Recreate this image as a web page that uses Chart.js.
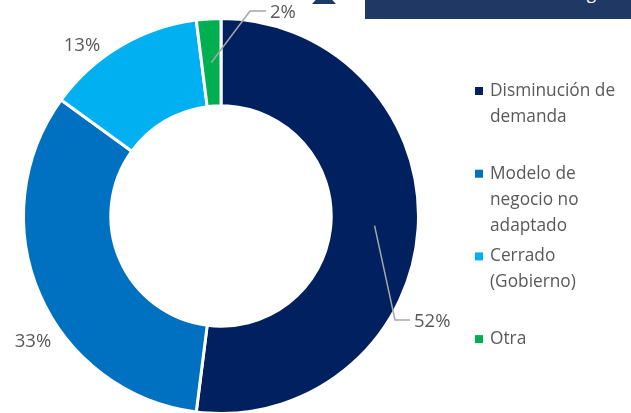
<!DOCTYPE html>
<html>
<head>
<meta charset="utf-8">
<script src="https://cdn.jsdelivr.net/npm/chart.js@4.4.0/dist/chart.umd.min.js"></script>
<style>
  html, body { margin: 0; padding: 0; background: #fff; }
  #wrap { position: relative; width: 631px; height: 413px; overflow: hidden; }
  #chart { position: absolute; left: 0; top: 0; }
  #tri { position: absolute; left: 312px; top: -9px; width: 0; height: 0;
         border-left: 12px solid transparent; border-right: 12px solid transparent;
         border-bottom: 13px solid #1f3864; }
  #box { position: absolute; left: 365px; top: 0; width: 266px; height: 19px;
         background: #1f3864; overflow: hidden; }
  #box span { position: absolute; left: 40px; top: -19px; color: #fff;
              font: 17px "Open Sans", sans-serif; white-space: nowrap; }
</style>
</head>
<body>
<div id="wrap">
  <canvas id="chart" width="631" height="416"></canvas>
  <div id="tri"></div>
  <div id="box"><span>Motivo de cierre del negocio</span></div>
</div>
<script>
const labels = [
  ["Disminución de", "demanda"],
  ["Modelo de", "negocio no", "adaptado"],
  ["Cerrado", "(Gobierno)"],
  ["Otra"]
];
const values = [52, 33, 13, 2];
const colors = ["#002060", "#0070c0", "#00b0f0", "#00b050"];

const textColor = "#595959";

// where each percentage label sits; some get a leader line from the slice
const labelSpots = [
  { x: 414, y: 322, align: "left", line: [[395, 320], [410, 320]] },
  { x: 33, y: 342, align: "center" },
  { x: 82, y: 46, align: "center" },
  { x: 270, y: 13, align: "left", line: [[250, 11], [266, 11]] }
];

const sliceLabels = {
  id: "sliceLabels",
  afterDatasetsDraw(chart) {
    const ctx = chart.ctx;
    const arcs = chart.getDatasetMeta(0).data;
    ctx.save();
    arcs.forEach((arc, i) => {
      const spot = labelSpots[i];
      if (spot.line) {
        const p = arc.tooltipPosition();
        ctx.beginPath();
        ctx.moveTo(p.x, p.y);
        spot.line.forEach(pt => ctx.lineTo(pt[0], pt[1]));
        ctx.strokeStyle = "#a6a6a6";
        ctx.lineWidth = 1.5;
        ctx.stroke();
      }
      ctx.fillStyle = textColor;
      ctx.font = "18.5px 'Open Sans', sans-serif";
      ctx.textAlign = spot.align;
      ctx.textBaseline = "middle";
      ctx.fillText(values[i] + "%", spot.x, spot.y);
    });
    ctx.restore();
  }
};

const sideLegend = {
  id: "sideLegend",
  afterDraw(chart) {
    const ctx = chart.ctx;
    ctx.save();
    ctx.font = "17.3px 'Open Sans', sans-serif";
    ctx.textBaseline = "middle";
    ctx.textAlign = "left";
    labels.forEach((lines, i) => {
      const y0 = 91 + i * 82.7;
      ctx.fillStyle = colors[i];
      ctx.fillRect(475, y0 - 4, 8, 8);
      ctx.fillStyle = textColor;
      lines.forEach((t, j) => ctx.fillText(t, 490, y0 + j * 26));
    });
    ctx.restore();
  }
};

new Chart(document.getElementById("chart"), {
  type: "doughnut",
  data: {
    labels: labels,
    datasets: [{
      data: values,
      backgroundColor: colors,
      borderColor: "#ffffff",
      borderWidth: 3
    }]
  },
  options: {
    responsive: false,
    animation: false,
    cutout: "55.8%",
    layout: { padding: { left: 22, top: 17, right: 211, bottom: 1 } },
    plugins: {
      legend: { display: false },
      tooltip: { enabled: false }
    }
  },
  plugins: [sliceLabels, sideLegend]
});
</script>
</body>
</html>
